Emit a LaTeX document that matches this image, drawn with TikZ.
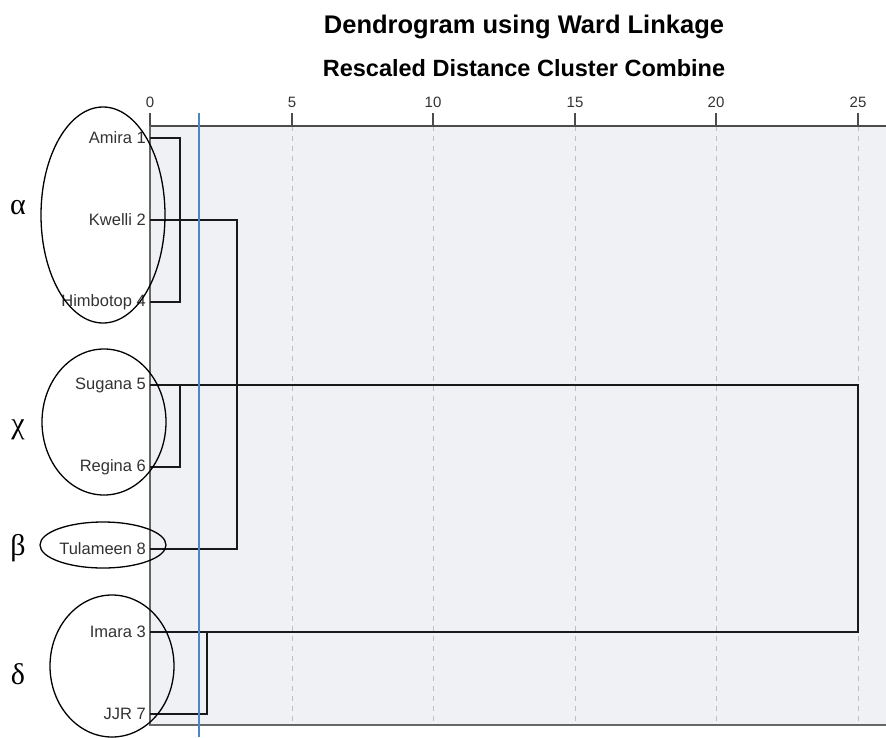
\documentclass[tikz,border=0pt]{standalone}
\usepackage{fontspec}
\setmainfont{Liberation Sans}
\newfontfamily\grk{Liberation Serif}
\definecolor{plotbg}{RGB}{239,241,244}
\definecolor{cutblue}{RGB}{74,134,200}
\begin{document}
\begin{tikzpicture}[x=1pt,y=-1pt,
  leaf/.style={anchor=east,font=\fontsize{16.5}{18}\selectfont,text=black!80,inner sep=1pt},
  tick/.style={font=\fontsize{15}{17}\selectfont,text=black!80,inner sep=0pt},
  grk/.style={font=\grk\fontsize{30}{32}\selectfont,inner sep=0pt},
  link/.style={line width=1.8pt,black!90},
  grid/.style={black!25,line width=0.9pt,dash pattern=on 5pt off 5pt},
  ring/.style={line width=1.3pt}]
\useasboundingbox (0,0) rectangle (886,737);
\fill[white] (0,0) rectangle (886,737);
% plot area
\fill[plotbg] (150,125) rectangle (886,725);
\foreach \v/\x in {5/292,10/433,15/575,20/716,25/858}{
  \draw[grid] (\x,126) -- (\x,725);
}
\draw[black!70,line width=1.6pt] (150,126) -- (886,126);
\draw[black!60,line width=1.3pt] (150,126) -- (150,725) -- (886,725);
\foreach \v/\x in {0/150,5/292,10/433,15/575,20/716,25/858}{
  \draw[black!70,line width=1.4pt] (\x,113) -- (\x,126);
  \node[tick] (t\v) at (\x,102) {\v};
}
% titles
\node[font=\bfseries\fontsize{25.5}{28}\selectfont,inner sep=0pt] (title) at (524,27) {Dendrogram using Ward Linkage};
\node[font=\bfseries\fontsize{23.5}{26}\selectfont,inner sep=0pt] (subtitle) at (524,68) {Rescaled Distance Cluster Combine};
% leaf labels
\node[leaf] (n1) at (147,138) {Amira 1};
\node[leaf] (n2) at (147,220) {Kwelli 2};
\node[leaf] (n4) at (147,302) {Himbotop 4};
\node[leaf] (n5) at (147,385) {Sugana 5};
\node[leaf] (n6) at (147,467) {Regina 6};
\node[leaf] (n8) at (147,549) {Tulameen 8};
\node[leaf] (n3) at (147,632) {Imara 3};
\node[leaf] (n7) at (147,714) {JJR 7};
% leaf anchor coordinates
\coordinate (l1) at (150,138);
\coordinate (l2) at (150,220);
\coordinate (l4) at (150,302);
\coordinate (l5) at (150,385);
\coordinate (l6) at (150,467);
\coordinate (l8) at (150,549);
\coordinate (l3) at (150,632);
\coordinate (l7) at (150,714);
% joints
\coordinate (a1) at (180,138);
\coordinate (a4) at (180,302);
\coordinate (b5) at (180,385);
\coordinate (b6) at (180,467);
\coordinate (c2) at (237,220);
\coordinate (c8) at (237,549);
\coordinate (d3) at (207,632);
\coordinate (d7) at (207,714);
\coordinate (e5) at (858,385);
\coordinate (e3) at (858,632);
% links
\draw[link] (l1) -- (a1) -- (a4) -- (l4);
\draw[link] (l6) -- (b6) -- (b5);
\draw[link] (l2) -- (c2) -- (c8) -- (l8);
\draw[link] (l5) -- (e5) -- (e3) -- (l3);
\draw[link] (l7) -- (d7) -- (d3);
% cut line
\coordinate (cutTop) at (199,113);
\coordinate (cutBot) at (199,737);
\draw[line width=2.2pt,cutblue] (cutTop) -- (cutBot);
% cluster ellipses
\draw[ring] (103,215) ellipse [x radius=62,y radius=108];
\draw[ring] (104,422) ellipse [x radius=62,y radius=73];
\draw[ring] (103,545) ellipse [x radius=63,y radius=23];
\draw[ring] (112,666) ellipse [x radius=62,y radius=71];
% greek labels
\node[grk] (ga) at (18,208) {α};
\node[grk] (gc) at (18,430) {χ};
\node[grk] (gb) at (18,548) {β};
\node[grk] (gd) at (18,674) {δ};
\end{tikzpicture}
\end{document}
